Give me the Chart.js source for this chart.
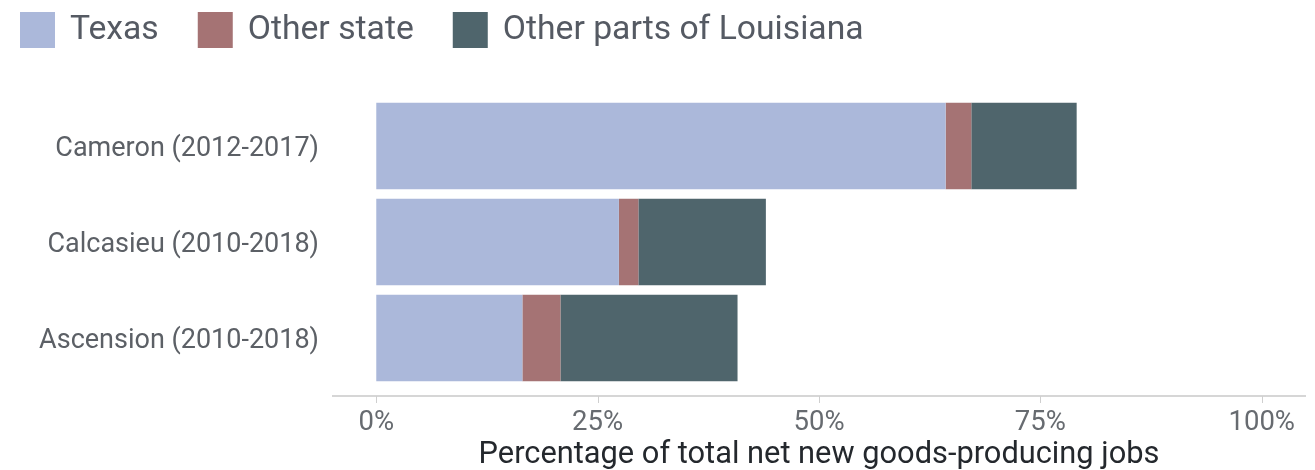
<!DOCTYPE html>
<html>
<head>
<meta charset="utf-8">
<script src="https://cdn.jsdelivr.net/npm/chart.js@4"></script>
<style>
    html, body { margin: 0; padding: 0; background: #fff; }
</style>
</head>
<body>
<canvas id="myChart" width="1315" height="470"></canvas>
<script>
const categories = ['Cameron (2012-2017)', 'Calcasieu (2010-2018)', 'Ascension (2010-2018)'];
const texas = [64.3, 27.4, 16.5];
const otherState = [2.9, 2.2, 4.3];
const otherLouisiana = [11.9, 14.4, 20.0];
const xTicks = [0, 25, 50, 75, 100];
const seriesNames = ['Texas', 'Other state', 'Other parts of Louisiana'];
const seriesColors = ['#abb8da', '#a57374', '#4f656c'];

// axis line sits a little below the last bar, with short tick marks
const axisLinePlugin = {
    id: 'axisLine',
    afterDraw: function (chart) {
        let ctx = chart.ctx;
        let area = chart.chartArea;
        let xScale = chart.scales.x;
        let y = area.bottom + 10;
        ctx.save();
        ctx.strokeStyle = '#d6d6d6';
        ctx.lineWidth = 2;
        ctx.beginPath();
        ctx.moveTo(area.left, y);
        ctx.lineTo(area.right, y);
        ctx.stroke();
        ctx.lineWidth = 1;
        ctx.strokeStyle = '#cfcfcf';
        xTicks.forEach(function (v) {
            let px = Math.round(xScale.getPixelForValue(v)) + 0.5;
            ctx.beginPath();
            ctx.moveTo(px, y);
            ctx.lineTo(px, y + 7);
            ctx.stroke();
        });
        ctx.restore();
    }
};

// legend drawn by hand so the spacing matches
const legendPlugin = {
    id: 'topLegend',
    afterDraw: function (chart) {
        let ctx = chart.ctx;
        let x = 20;
        ctx.save();
        ctx.font = '33.7px Roboto';
        ctx.textBaseline = 'middle';
        chart.data.datasets.forEach(function (ds) {
            ctx.fillStyle = ds.backgroundColor;
            ctx.fillRect(x, 12, 35, 36);
            ctx.fillStyle = '#555a63';
            ctx.fillText(ds.label, x + 50, 31);
            x += 50 + ctx.measureText(ds.label).width + 39;
        });
        ctx.restore();
    }
};

let ctx = document.getElementById('myChart').getContext('2d');

new Chart(ctx, {
    type: 'bar',
    data: {
        labels: categories,
        datasets: [
            { label: seriesNames[0], data: texas, backgroundColor: seriesColors[0] },
            { label: seriesNames[1], data: otherState, backgroundColor: seriesColors[1] },
            { label: seriesNames[2], data: otherLouisiana, backgroundColor: seriesColors[2] }
        ]
    },
    options: {
        indexAxis: 'y',
        responsive: false,
        animation: false,
        barPercentage: 1,
        categoryPercentage: 0.9,
        layout: { padding: { top: 98, left: 19, right: 9, bottom: 0 } },
        plugins: {
            legend: { display: false },
            tooltip: { enabled: false }
        },
        scales: {
            x: {
                stacked: true,
                min: -5,
                max: 105,
                afterBuildTicks: function (scale) {
                    scale.ticks = xTicks.map(function (v) { return { value: v }; });
                },
                afterFit: function (scale) { scale.height = 84; },
                grid: { display: false },
                border: { display: false },
                ticks: {
                    padding: 13,
                    color: '#676b70',
                    font: { family: 'Roboto', size: 27.5 },
                    callback: function (v) { return v + '%'; }
                },
                title: {
                    display: true,
                    text: 'Percentage of total net new goods-producing jobs',
                    color: '#24282d',
                    font: { family: 'Roboto', size: 30.8 },
                    padding: { top: 0, bottom: -4 }
                }
            },
            y: {
                stacked: true,
                afterFit: function (scale) { scale.width = 313; },
                grid: { display: false },
                border: { display: false },
                ticks: {
                    padding: 5,
                    labelOffset: 3,
                    color: '#5c6066',
                    font: { family: 'Roboto', size: 27 }
                }
            }
        }
    },
    plugins: [axisLinePlugin, legendPlugin]
});
</script>
</body>
</html>
